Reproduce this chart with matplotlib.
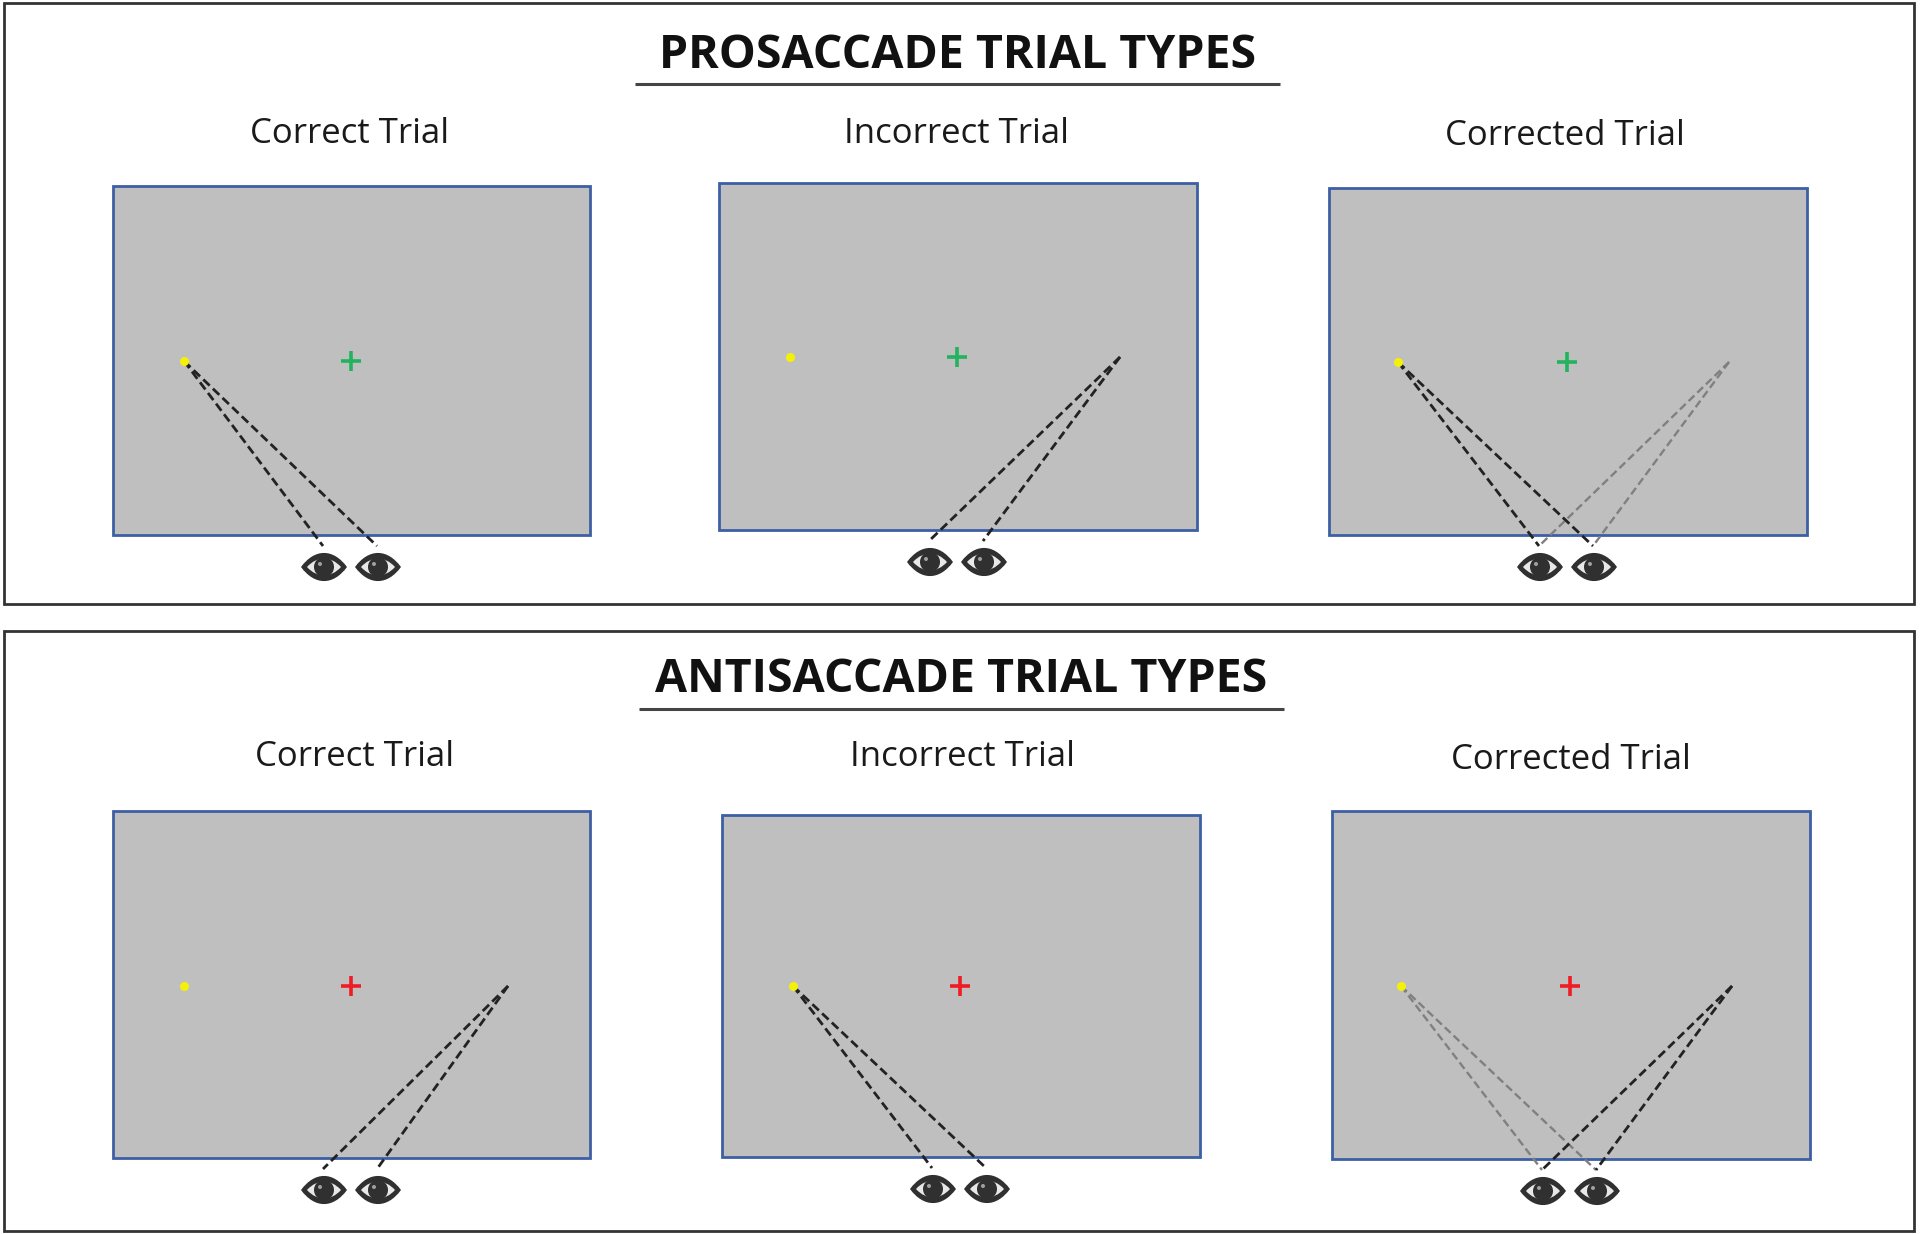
import matplotlib
matplotlib.use("Agg")
import matplotlib.pyplot as plt
from matplotlib.patches import Rectangle, Ellipse, PathPatch
from matplotlib.path import Path

plt.rcParams['font.family'] = ['Open Sans', 'DejaVu Sans']

# everything is measured in pixels of the 1920x1234 picture
outer_boxes = [(4, 3, 1910, 601), (4, 631, 1910, 600)]
section_titles = ["PROSACCADE TRIAL TYPES", "ANTISACCADE TRIAL TYPES"]
title_x = [958, 961]
title_y = [56, 680]
rule_y = [84, 709]

trial_names = ["Correct Trial", "Incorrect Trial", "Corrected Trial"] * 2
trial_label_x = [350, 957, 1565, 355, 962, 1571]
trial_label_y = [134, 134, 136, 757, 757, 760]

# left, top, right, bottom of each grey screen
screen_left = [113, 719, 1329, 113, 722, 1332]
screen_top = [186, 183, 188, 811, 815, 811]
screen_right = [590, 1197, 1807, 590, 1200, 1810]
screen_bottom = [535, 530, 535, 1158, 1157, 1159]
dot_height = [361, 357, 362, 986, 986, 986]

cross_colors = ["#22b35e"] * 3 + ["#f01c24"] * 3
# where the saccade goes: solid black paths, then faded ones
dark_paths = [["left"], ["right"], ["left"], ["right"], ["left"], ["right"]]
faded_paths = [[], [], ["right"], [], [], ["left"]]

left_target = [71, 71, 69, 71, 71, 69]
right_target = [399, 401, 400, 395, 399, 400]
cross_offset = 238
eye_offsets = [210, 264]


def draw_eye(ax, cx, cy):
    w, h = 23, 15
    verts = [(cx - w, cy), (cx - w * 0.4, cy - h * 1.25), (cx + w * 0.4, cy - h * 1.25), (cx + w, cy),
             (cx + w * 0.4, cy + h * 1.25), (cx - w * 0.4, cy + h * 1.25), (cx - w, cy)]
    codes = [Path.MOVETO, Path.CURVE4, Path.CURVE4, Path.CURVE4, Path.CURVE4, Path.CURVE4, Path.CURVE4]
    ax.add_patch(PathPatch(Path(verts, codes), fc="#303030", ec="none", zorder=5))
    w2, h2 = 17, 9
    verts2 = [(cx - w2, cy), (cx - w2 * 0.4, cy - h2 * 1.25), (cx + w2 * 0.4, cy - h2 * 1.25), (cx + w2, cy),
              (cx + w2 * 0.4, cy + h2 * 1.25), (cx - w2 * 0.4, cy + h2 * 1.25), (cx - w2, cy)]
    ax.add_patch(PathPatch(Path(verts2, codes), fc="#e8e8e8", ec="none", zorder=6))
    ax.add_patch(Ellipse((cx, cy), 20, 20, fc="#303030", ec="none", zorder=7))
    ax.add_patch(Ellipse((cx - 4, cy - 3), 4, 4, fc="#a0a0a0", ec="none", zorder=8))


fig = plt.figure(figsize=(19.2, 12.34), dpi=100)
ax = fig.add_axes([0, 0, 1, 1])
ax.set_xlim(0, 1920)
ax.set_ylim(1234, 0)
ax.axis('off')

for (x, y, w, h) in outer_boxes:
    ax.add_patch(Rectangle((x, y), w, h, fc="white", ec="#333333", lw=2))

for i in range(2):
    ax.text(title_x[i], title_y[i], section_titles[i], ha='center', va='center',
            fontsize=33.5, fontweight='bold', color="#111111")
    ax.plot([title_x[i] - 323 + i, title_x[i] + 322 + i], [rule_y[i], rule_y[i]], color="#444444", lw=2.2,
            solid_capstyle='butt')

for i in range(6):
    left, top, right, bottom = screen_left[i], screen_top[i], screen_right[i], screen_bottom[i]
    ax.text(trial_label_x[i], trial_label_y[i], trial_names[i], ha='center', va='center',
            fontsize=25, color="#1a1a1a")
    ax.add_patch(Rectangle((left, top), right - left, bottom - top, fc="#bfbfbf", ec="#3d5fa3", lw=2, zorder=2))

    dot_y = dot_height[i]
    target = {"left": left_target[i], "right": right_target[i]}
    ax.plot(left + target["left"], dot_y, 'o', color="#f5f00a", ms=6.5, mew=0, zorder=4)
    ax.plot(left + cross_offset, dot_y, '+', color=cross_colors[i], ms=15, mew=2.6, zorder=4)

    for side in faded_paths[i]:
        for off in eye_offsets:
            ax.plot([left + target[side], left + off], [dot_y, bottom + 11], color="#808080",
                    lw=1.7, ls=(0, (3.4, 1.7)), zorder=3)
    for side in dark_paths[i]:
        for off in eye_offsets:
            ax.plot([left + target[side], left + off], [dot_y, bottom + 11], color="#222222",
                    lw=2.0, ls=(0, (3.2, 1.6)), zorder=3)
    for off in eye_offsets:
        draw_eye(ax, left + off + 1, bottom + 32)

fig.savefig('out.png', dpi=100)
